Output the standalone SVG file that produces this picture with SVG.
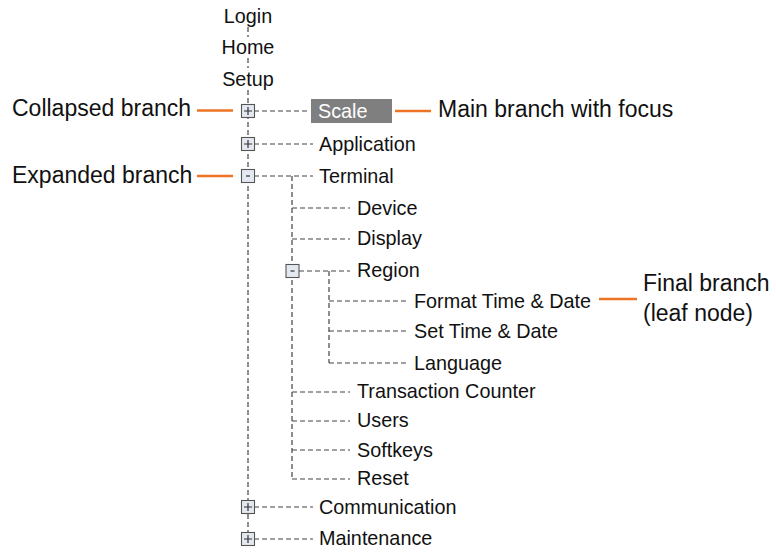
<svg xmlns="http://www.w3.org/2000/svg" width="776" height="552" viewBox="0 0 776 552">
<style>
text{font-family:"Liberation Sans",Arial,sans-serif;fill:#111}
.t{font-size:19.8px}
.a{font-size:23px}
.c{stroke:#444;stroke-width:1.2;stroke-dasharray:5 3;fill:none}
.o{stroke:#ec7424;stroke-width:2.6;fill:none}
.b{fill:#e4e9f1;stroke:#555;stroke-width:1.1}
.s{stroke:#333;stroke-width:1.2;fill:none}
</style>
<rect width="776" height="552" fill="#fff"/>
<g id="connectors">
<path class="c" d="M248 27V37M248 58V68M248 90V533"/>
<path class="c" d="M254 111H310M254 144H313M254 176H313M254 507H313M254 539H313"/>
<path class="c" d="M292 176V479M292 208H350M292 239H350M299 271H350M292 392H350M292 421H350M292 450H350M292 479H350"/>
<path class="c" d="M329 271V363M329 301H407M329 331H407M329 363H407"/>
</g>
<g id="login"><text class="t" x="248" y="23" text-anchor="middle">Login</text></g>
<g id="home"><text class="t" x="248" y="54" text-anchor="middle">Home</text></g>
<g id="setup"><text class="t" x="248" y="86" text-anchor="middle">Setup</text></g>
<g id="scale">
<rect class="b" x="241.5" y="104.5" width="13" height="13"/><path class="s" d="M244 111H252M248 107V115"/>
<rect x="311" y="99" width="81" height="24" fill="#7f7f7f"/>
<text class="t" x="318" y="118" style="fill:#fff">Scale</text>
</g>
<g id="application">
<rect class="b" x="241.5" y="137.5" width="13" height="13"/><path class="s" d="M244 144H252M248 140V148"/>
<text class="t" x="319" y="151">Application</text>
</g>
<g id="terminal">
<rect class="b" x="241.5" y="169.5" width="13" height="13"/><path class="s" d="M246 176H250"/>
<text class="t" x="319" y="183">Terminal</text>
</g>
<g id="device"><text class="t" x="357" y="215">Device</text></g>
<g id="display"><text class="t" x="357" y="245">Display</text></g>
<g id="region">
<rect class="b" x="286" y="264.5" width="13" height="13"/><path class="s" d="M290.5 271H294.5"/>
<text class="t" x="357" y="277">Region</text>
</g>
<g id="format"><text class="t" x="414" y="308">Format Time &amp; Date</text></g>
<g id="settime"><text class="t" x="414" y="338">Set Time &amp; Date</text></g>
<g id="language"><text class="t" x="414" y="370">Language</text></g>
<g id="transaction"><text class="t" x="357" y="398">Transaction Counter</text></g>
<g id="users"><text class="t" x="357" y="427">Users</text></g>
<g id="softkeys"><text class="t" x="357" y="457">Softkeys</text></g>
<g id="reset"><text class="t" x="357" y="485">Reset</text></g>
<g id="communication">
<rect class="b" x="241.5" y="500.5" width="13" height="13"/><path class="s" d="M244 507H252M248 503V511"/>
<text class="t" x="319" y="514">Communication</text>
</g>
<g id="maintenance">
<rect class="b" x="241.5" y="532.5" width="13" height="13"/><path class="s" d="M244 539H252M248 535V543"/>
<text class="t" x="319" y="545">Maintenance</text>
</g>
<g id="annotations">
<path class="o" d="M197 110.5H233M197 176H233M395 111H431M599 299H637"/>
<text class="a" x="12" y="116">Collapsed branch</text>
<text class="a" x="12" y="183">Expanded branch</text>
<text class="a" x="438" y="117">Main branch with focus</text>
<text class="a" x="643" y="291">Final branch</text>
<text class="a" x="643" y="321">(leaf node)</text>
</g>
</svg>
